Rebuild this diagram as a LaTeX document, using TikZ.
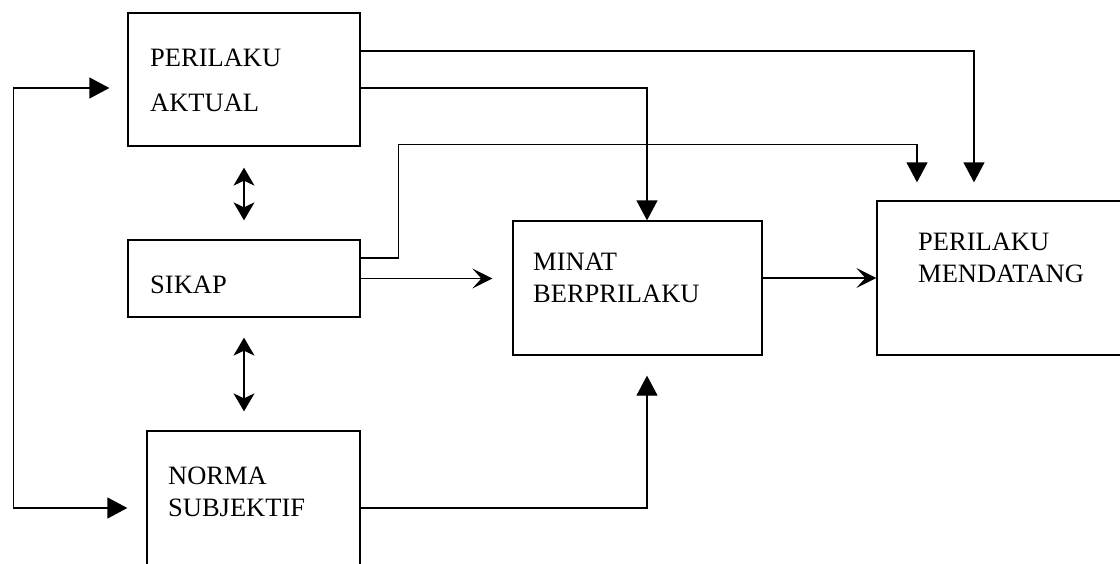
\documentclass[tikz,border=0pt]{standalone}
\usepackage{fontspec}
\setmainfont{Liberation Serif}
\usetikzlibrary{arrows.meta,positioning,calc}

\begin{document}
\begin{tikzpicture}[
  x=1pt, y=-1pt, % one unit is one pixel of the original scan
  box/.style={draw=black, line width=1.3pt, inner sep=0pt},
  lbl/.style={align=left, inner sep=0pt, anchor=west, font=\fontsize{26.5}{32}\selectfont},
  link/.style={line width=1.3pt, draw=black},
  arrow/.style={link, -{Triangle[length=20pt, width=21pt]}},
  openarrow/.style={link, -{Stealth[length=20pt, width=20pt, inset=9pt]}},
  dblarrow/.style={link, {Stealth[length=18pt, width=21pt, inset=5pt]}-{Stealth[length=18pt, width=21pt, inset=5pt]}}
]

\clip (0,0) rectangle (1120,563);

% --- Boxes ---
\node[box, minimum width=232pt, minimum height=133pt] (aktual) at (244,79.5) {};
\node[box, minimum width=232pt, minimum height=77pt] (sikap) at (244,278.5) {};
\node[box, minimum width=213pt, minimum height=154pt] (norma) at (253.5,508) {};
\node[box, minimum width=249pt, minimum height=134pt] (minat) at (637.5,288) {};
\node[box, minimum width=263pt, minimum height=154pt] (mendatang) at (1008.5,278) {};

% --- Texts ---
\node[lbl] (tAktual) at (150,80) {PERILAKU\\[13pt]AKTUAL};
\node[lbl] (tSikap) at (150,285) {SIKAP};
\node[lbl] (tNorma) at (168,492) {NORMA\\SUBJEKTIF};
\node[lbl] (tMinat) at (533,277.5) {MINAT\\BERPRILAKU};
\node[lbl] (tMendatang) at (918,258) {PERILAKU\\MENDATANG};

% --- Corners of the long connectors ---
\coordinate (sikapBend) at ($(sikap.east)+(38,-20.5)$);
\coordinate (sikapTop) at ($(mendatang.north)+(-91.5,-56)$);

% --- Double arrows between the left boxes ---
\draw[dblarrow] ([yshift=-21pt]aktual.south) -- ([yshift=19pt]sikap.north);
\draw[dblarrow] ([yshift=-20pt]sikap.south) -- ([yshift=19pt]sikap.south |- norma.north);

% --- Loop on the left ---
\draw[link, {Triangle[length=20pt, width=21pt]}-{Triangle[length=20pt, width=21pt]}]
  ([shift={(-18pt,-8.5pt)}]aktual.west) -| ([xshift=-133pt]norma.west) -- ([xshift=-19pt]norma.west);

% --- Arrows from the top ---
\draw[arrow] ([yshift=28.5pt]aktual.east) -| ([shift={(-34.5pt,18pt)}]mendatang.north);
\draw[arrow] ([yshift=-8.5pt]aktual.east) -| ([xshift=9.5pt]minat.north);
\draw[arrow] ([yshift=20.5pt]sikap.east) -| (sikapBend) |- (sikapTop) -- ([shift={(-91.5pt,18pt)}]mendatang.north);

% --- Middle row ---
\draw[openarrow] (sikap.east) -- ([xshift=-20pt]minat.west |- sikap.east);
\draw[openarrow] (minat.east |- mendatang.west) -- (mendatang.west);

% --- From below ---
\draw[arrow] (norma.east) -| ([shift={(9.5pt,-20pt)}]minat.south);

\end{tikzpicture}
\end{document}
